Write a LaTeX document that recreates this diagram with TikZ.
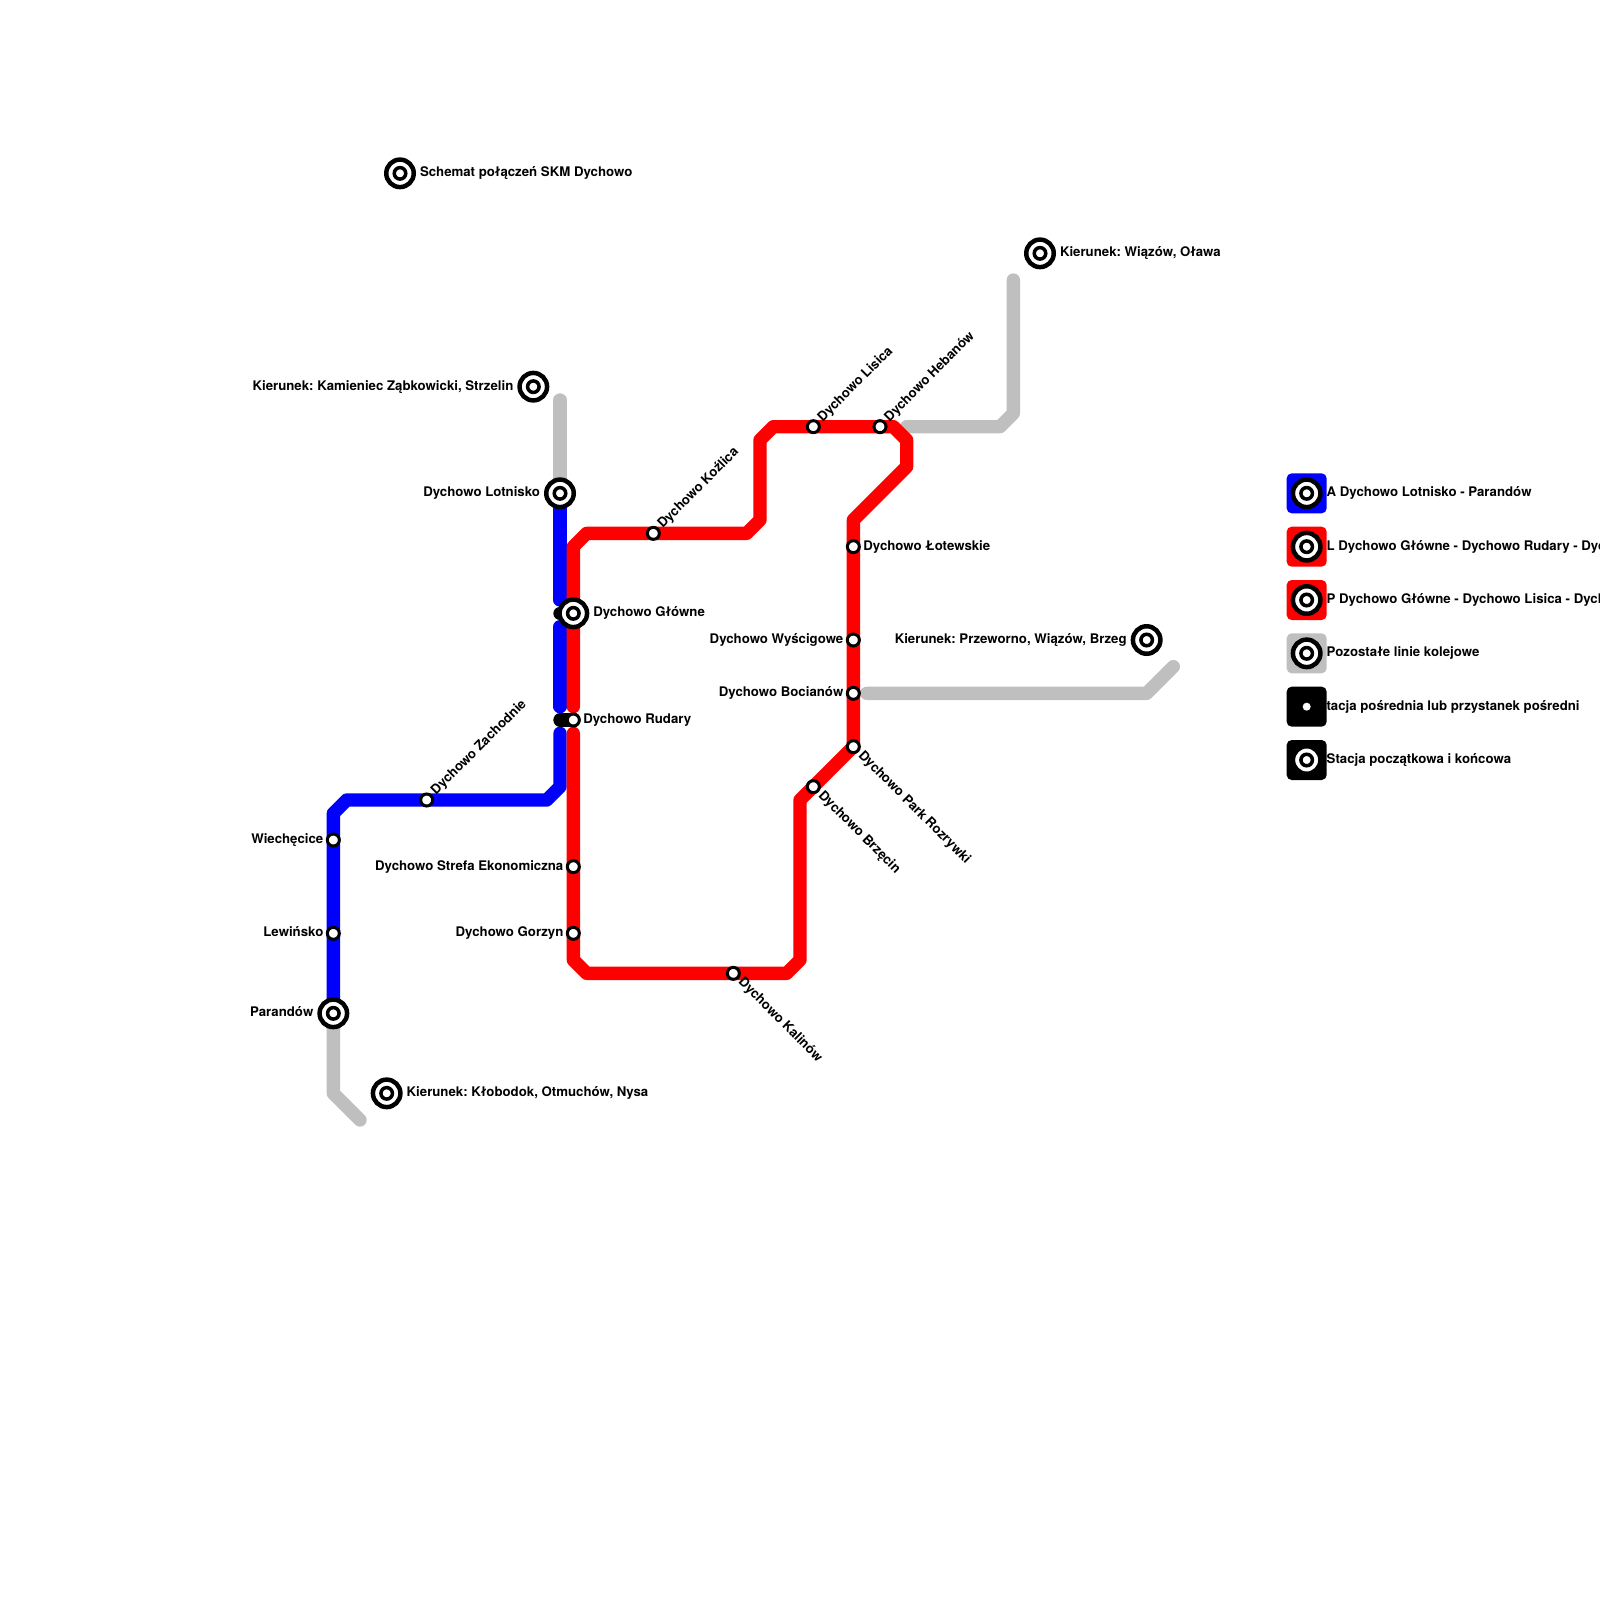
\documentclass[tikz,border=0pt]{standalone}
\usepackage{fontspec}
\setmainfont{TeX Gyre Heros}
\frenchspacing
\definecolor{lineA}{HTML}{0000FF}
\definecolor{lineL}{HTML}{FF0000}
\definecolor{lineG}{HTML}{BFBFBF}
\tikzset{
  track/.style={line width=13.333pt,line cap=round,line join=round},
  smallst/.style={circle,draw=black,fill=white,line width=3pt,minimum size=12pt,inner sep=0pt,outer sep=0pt},
  bigst/.style={circle,draw=black,fill=white,line width=4.5pt,minimum size=27.5pt,inner sep=0pt,outer sep=0pt},
  bigcore/.style={circle,draw=black,fill=white,line width=3.5pt,minimum size=11.5pt,inner sep=0pt,outer sep=0pt},
  dot/.style={circle,fill=white,minimum size=8pt,inner sep=0pt,outer sep=0pt},
  swatch/.style={rectangle,rounded corners=5pt,minimum size=40pt,inner sep=0pt,outer sep=0pt},
  lab/.style={font=\fontsize{13.23pt}{15pt}\selectfont\bfseries,text=black,inner sep=0pt,outer sep=0pt,text height=9.5pt,text depth=2.3pt},
  labr/.style={lab,anchor=west},
  labl/.style={lab,anchor=east},
  labup/.style={lab,anchor=west,rotate=45},
  labdn/.style={lab,anchor=west,rotate=-45},
}
\begin{document}
\begin{tikzpicture}[x=13.3333pt,y=-13.3333pt]
\useasboundingbox (0,0) rectangle (120,120);
% stations
\foreach \n/\x/\y in {lot/42/37,glo/43/46,rud/43/54,lef/42/46,leb/42/54,zach/32/60,wie/25/63,lew/25/70,par/25/76,
  stre/43/65,gor/43/70,kal/55/73,brz/61/59,park/64/56,boc/64/52,wys/64/48,lot2/64/41,heb/66/32,lis/61/32,koz/49/40,
  klo/29/82,sch/30/13,kam/40/29,wia/78/19,prz/86/48,
  a1/42/45,a2/42/47,a3/42/53,a4/42/55,a5/42/59,a6/41/60,a7/26/60,a8/25/61,
  g1/42/30,g2/25/82,g3/27/84,g4/68/32,g5/75/32,g6/76/31,g7/76/21,g8/65/52,g9/86/52,g10/88/50,
  r1/43/53,r2/43/41,r3/44/40,r4/56/40,r5/57/39,r6/57/33,r7/58/32,r8/67/32,r9/68/33,r10/68/35,r11/64/39,
  r12/60/60,r13/60/72,r14/59/73,r15/44/73,r16/43/72,r17/43/55,
  k1/98/37,k2/98/41,k3/98/45,k4/98/49,k5/98/53,k6/98/57}
  {\coordinate (\n) at (\x,\y);}
% grey lines
\draw[track,lineG] (g1) -- (lot);
\draw[track,lineG] (par) -- (g2) -- (g3);
\draw[track,lineG] (g4) -- (g5) -- (g6) -- (g7);
\draw[track,lineG] (g8) -- (g9) -- (g10);
% line A
\draw[track,lineA] (lot) -- (a1);
\draw[track,lineA] (a2) -- (a3);
\draw[track,lineA] (a4) -- (a5) -- (a6) -- (a7) -- (a8) -- (par);
% lines L and P
\draw[track,lineL] (r1) -- (r2) -- (r3) -- (r4) -- (r5) -- (r6) -- (r7) -- (r8) -- (r9) -- (r10) -- (r11) -- (park) -- (r12) -- (r13) -- (r14) -- (r15) -- (r16) -- (r17);
% black links
\draw[track,black] (lef) -- (glo);
\draw[track,black] (leb) -- (rud);
% labels
\node[labr] (tsch) at ([xshift=20pt]sch) {Schemat połączeń SKM Dychowo};
\node[labr] (twia) at ([xshift=20pt]wia) {Kierunek: Wiązów, Oława};
\node[labr] (tklo) at ([xshift=20pt]klo) {Kierunek: Kłobodok, Otmuchów, Nysa};
\node[labr] (tglo) at ([xshift=20pt]glo) {Dychowo Główne};
\node[labr] (trud) at ([xshift=10pt]rud) {Dychowo Rudary};
\node[labr] (tlot2) at ([xshift=10pt]lot2) {Dychowo Łotewskie};
\node[labl] (tkam) at ([xshift=-20pt]kam) {Kierunek: Kamieniec Ząbkowicki, Strzelin};
\node[labl] (tlot) at ([xshift=-20pt]lot) {Dychowo Lotnisko};
\node[labl] (tpar) at ([xshift=-20pt]par) {Parandów};
\node[labl] (twie) at ([xshift=-10pt]wie) {Wiechęcice};
\node[labl] (tlew) at ([xshift=-10pt]lew) {Lewińsko};
\node[labl] (tstre) at ([xshift=-10pt]stre) {Dychowo Strefa Ekonomiczna};
\node[labl] (tgor) at ([xshift=-10pt]gor) {Dychowo Gorzyn};
\node[labl] (twys) at ([xshift=-10pt]wys) {Dychowo Wyścigowe};
\node[labl] (tboc) at ([xshift=-10pt]boc) {Dychowo Bocianów};
\node[labl] (tprz) at ([xshift=-20pt]prz) {Kierunek: Przeworno, Wiązów, Brzeg};
\node[labup] (tzach) at ([xshift=7pt,yshift=7pt]zach) {Dychowo Zachodnie};
\node[labup] (tkoz) at ([xshift=7pt,yshift=7pt]koz) {Dychowo Koźlica};
\node[labup] (tlis) at ([xshift=7pt,yshift=7pt]lis) {Dychowo Lisica};
\node[labup] (theb) at ([xshift=7pt,yshift=7pt]heb) {Dychowo Hebanów};
\node[labdn] (tkal) at ([xshift=7pt,yshift=-7pt]kal) {Dychowo Kalinów};
\node[labdn] (tbrz) at ([xshift=7pt,yshift=-7pt]brz) {Dychowo Brzęcin};
\node[labdn] (tpark) at ([xshift=7pt,yshift=-7pt]park) {Dychowo Park Rozrywki};
% legend texts
\node[labr] (l1) at ([xshift=20pt]k1) {A Dychowo Lotnisko - Parandów};
\node[labr] (l2) at ([xshift=20pt]k2) {L Dychowo Główne - Dychowo Rudary - Dyc};
\node[labr] (l3) at ([xshift=20pt]k3) {P Dychowo Główne - Dychowo Lisica - Dych};
\node[labr] (l4) at ([xshift=20pt]k4) {Pozostałe linie kolejowe};
\node[labr] (l5) at ([xshift=11pt]k5) {Stacja pośrednia lub przystanek pośredni};
\node[labr] (l6) at ([xshift=20pt]k6) {Stacja początkowa i końcowa};
% legend swatches
\node[swatch,fill=lineA] (s1) at (k1) {};
\node[swatch,fill=lineL] (s2) at (k2) {};
\node[swatch,fill=lineL] (s3) at (k3) {};
\node[swatch,fill=lineG] (s4) at (k4) {};
\node[swatch,fill=black] (s5) at (k5) {};
\node[swatch,fill=black] (s6) at (k6) {};
% big stations
\foreach \n in {lot,glo,par,klo,sch,kam,wia,prz,k1,k2,k3,k4,k6}
  {\node[bigst] (o\n) at (\n) {}; \node[bigcore] (c\n) at (\n) {};}
% small stations
\foreach \n in {rud,zach,wie,lew,stre,gor,kal,brz,park,boc,wys,lot2,heb,lis,koz}
  {\node[smallst] (o\n) at (\n) {};}
\node[dot] (d5) at (k5) {};
\end{tikzpicture}
\end{document}
